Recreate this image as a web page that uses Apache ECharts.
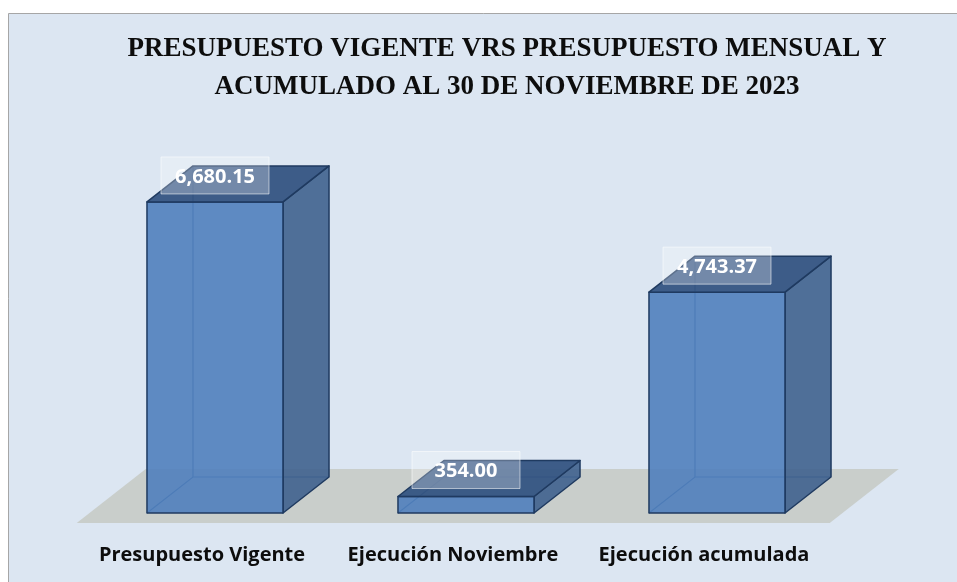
<!DOCTYPE html>
<html>
<head>
<meta charset="utf-8">
<script src="https://cdn.jsdelivr.net/npm/echarts@6/dist/echarts.min.js"></script>
<style>
  html, body { margin: 0; padding: 0; background: #ffffff; }
  #chart { width: 957px; height: 582px; }
</style>
</head>
<body>
<div id="chart"></div>
<script>
const categories = ['Presupuesto Vigente', 'Ejecución Noviembre', 'Ejecución acumulada'];
const values = [6680.15, 354.0, 4743.37];
const titleLines = ['PRESUPUESTO VIGENTE VRS PRESUPUESTO MENSUAL Y', 'ACUMULADO AL 30 DE NOVIEMBRE DE 2023'];

// depth of the fake 3D boxes, in pixels
const DX = 46, DY = -36;

const fmt = v => v.toLocaleString('en-US', { minimumFractionDigits: 2, maximumFractionDigits: 2 });

const chart = echarts.init(document.getElementById('chart'));

function renderFloor(params, api) {
  const cs = params.coordSys;
  const left = cs.x, right = cs.x + cs.width, yb = cs.y + cs.height;
  const f = 10 / 36, b = 44 / 36;
  return {
    type: 'polygon',
    shape: {
      points: [
        [left - DX * f, yb - DY * f],
        [right - DX * f, yb - DY * f],
        [right + DX * b, yb + DY * b],
        [left + DX * b, yb + DY * b]
      ]
    },
    style: { fill: '#c9cecb' }
  };
}

function renderBar(params, api) {
  const idx = api.value(0);
  const val = api.value(1);
  const top = api.coord([idx, val]);
  const base = api.coord([idx, 0]);
  const band = api.size([1, 0])[0];
  const w = band * 0.542;
  const x0 = base[0] - w / 2, x1 = base[0] + w / 2;
  const yb = base[1], yt = top[1];
  const edge = '#1f3a60';
  const label = fmt(val);
  return {
    type: 'group',
    children: [
      // hidden back edges, seen through the faces
      { type: 'polyline', shape: { points: [[x0, yb], [x0 + DX, yb + DY], [x1 + DX, yb + DY]] },
        style: { stroke: '#2f5488', lineWidth: 1.2, fill: null } },
      { type: 'line', shape: { x1: x0 + DX, y1: yb + DY, x2: x0 + DX, y2: yt + DY },
        style: { stroke: '#2f5488', lineWidth: 1.2 } },
      // side face
      { type: 'polygon', shape: { points: [[x1, yt], [x1 + DX, yt + DY], [x1 + DX, yb + DY], [x1, yb]] },
        style: { fill: 'rgba(63,98,142,0.9)', stroke: edge, lineWidth: 1.5, lineJoin: 'round' } },
      // front face
      { type: 'polygon', shape: { points: [[x0, yt], [x1, yt], [x1, yb], [x0, yb]] },
        style: { fill: 'rgba(80,128,189,0.9)', stroke: edge, lineWidth: 1.5, lineJoin: 'round' } },
      // top face
      { type: 'polygon', shape: { points: [[x0, yt], [x0 + DX, yt + DY], [x1 + DX, yt + DY], [x1, yt]] },
        style: { fill: 'rgba(52,84,130,0.95)', stroke: edge, lineWidth: 1.5, lineJoin: 'round' } },
      // value label box
      { type: 'rect', shape: { x: base[0] - 54, y: yt - 45, width: 108, height: 37 },
        style: { fill: 'rgba(255,255,255,0.28)', stroke: 'rgba(255,255,255,0.55)', lineWidth: 1 } },
      { type: 'text', x: base[0], y: yt - 25,
        style: { text: label, fill: '#ffffff', font: 'bold 20px "Open Sans", sans-serif',
                 align: 'center', verticalAlign: 'middle' } }
    ]
  };
}

chart.setOption({
  backgroundColor: '#ffffff',
  animation: false,
  graphic: [
    { type: 'rect', z: -10, shape: { x: 8.5, y: 13.5, width: 960, height: 580 },
      style: { fill: '#dce6f2', stroke: '#a6a6a6', lineWidth: 1 } },
    { type: 'text', x: 507, y: 30, z: 10,
      style: { text: titleLines.join('\n'), fill: '#0d0d0d', align: 'center',
               font: 'bold 27px "Liberation Serif", serif', lineHeight: 38 } }
  ],
  grid: { left: 89.5, right: 114.5, top: 140.5, bottom: 69 },
  xAxis: {
    type: 'category',
    data: categories,
    axisLine: { show: false },
    axisTick: { show: false },
    axisLabel: {
      interval: 0,
      hideOverlap: false,
      margin: 32,
      color: '#0d0d0d',
      fontWeight: 'bold',
      fontSize: 20,
      fontFamily: '"Open Sans", sans-serif',
      padding: [0, 26, 0, 0]
    }
  },
  yAxis: { type: 'value', min: 0, max: 8000, show: false },
  series: [
    { type: 'custom', renderItem: renderFloor, data: [[0]], z: 1, silent: true },
    { type: 'custom', renderItem: renderBar, z: 2,
      data: values.map((v, i) => [i, v]) }
  ]
});
</script>
</body>
</html>
